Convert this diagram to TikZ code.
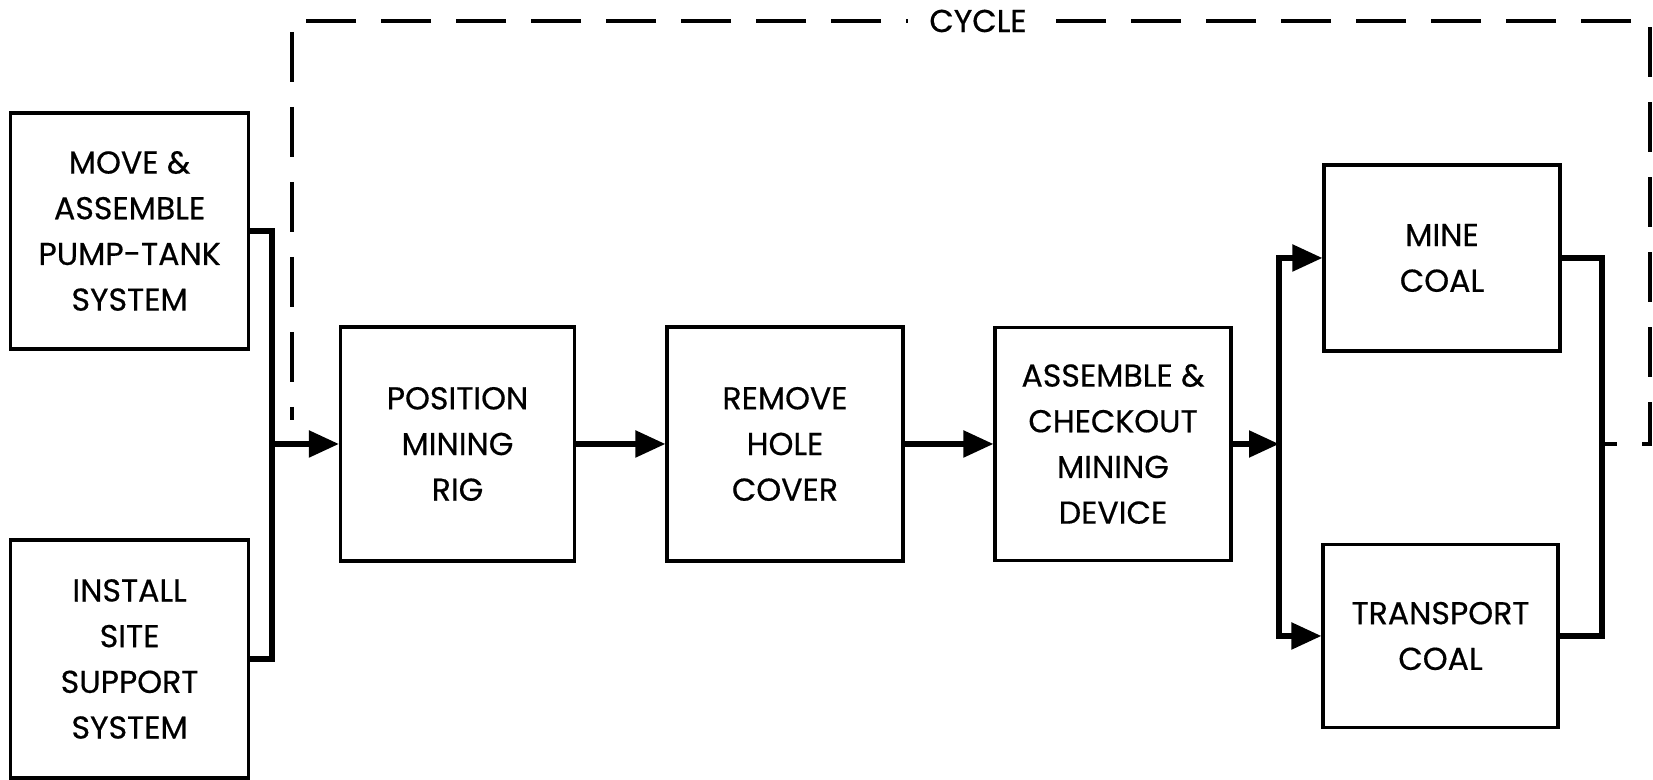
\documentclass[tikz,border=0pt]{standalone}
\usepackage{fontspec}
\setmainfont{Poppins}[FakeBold=0.5]
\usepackage{tikz}
\usetikzlibrary{arrows.meta,positioning,calc}
\tikzset{%
  >={Triangle[length=3mm,width=2.6mm]},
  font=\fontsize{9}{13}\selectfont
}

\begin{document}
\begin{tikzpicture}[box/.style={draw,line width=0.9pt,align=center,%
		minimum width=2.36cm,minimum height=2.36cm,inner sep=2pt},%
	flow/.style={line width=1.5pt},%
	cyc/.style={line width=0.9pt,dash pattern=on 5mm off 2.5mm}]
	\useasboundingbox (0,0) rectangle (16.53,7.80);
	
	\node[box,minimum width=2.38cm] (move) at (1.296,5.49) {MOVE \&\\ASSEMBLE\\PUMP-TANK\\SYSTEM};
	\node[box,minimum width=2.38cm,minimum height=2.38cm] (install) at (1.296,1.21) {INSTALL\\SITE\\SUPPORT\\SYSTEM};
	\node[box,minimum width=2.34cm,minimum height=2.34cm] (pos) at (4.575,3.36) {POSITION\\MINING\\RIG};
	\node[box,minimum height=2.34cm] (remove) at (7.85,3.36) {REMOVE\\HOLE\\COVER};
	\node[box,minimum height=2.33cm] (assem) at (11.13,3.36) {ASSEMBLE \&\\CHECKOUT\\MINING\\DEVICE};
	\node[box,minimum height=1.86cm] (mine) at (14.42,5.22) {MINE\\COAL};
	\node[box,minimum width=2.35cm,minimum height=1.83cm] (transp) at (14.405,1.44) {TRANSPORT\\COAL};
	
	% joins
	\coordinate (jl) at (2.72,3.36);
	\coordinate (jr) at (12.79,3.36);
	\coordinate (back) at (16.02,3.36);
	
	\draw[flow] (move.east) -| (jl) |- (install.east);
	\draw[flow,->] (jl) -- (pos.west);
	\draw[flow,->] (pos) -- (remove);
	\draw[flow,->] (remove) -- (assem);
	\draw[flow,->] (assem.east) -- (jr);
	\draw[flow,->] (jr) |- (mine.west);
	\draw[flow,->] (jr) |- (transp.west);
	\draw[flow] (mine.east) -| (back) |- (transp.east);
	
	% cycle loop
	\draw[cyc,dash phase=3.5mm] (back) -- (16.50,3.36) -- (16.50,7.59) -- (2.92,7.59) -- (2.92,3.60);
	\node[fill=white,inner xsep=6pt] (cycle) at (9.78,7.59) {CYCLE};
\end{tikzpicture}
\end{document}
